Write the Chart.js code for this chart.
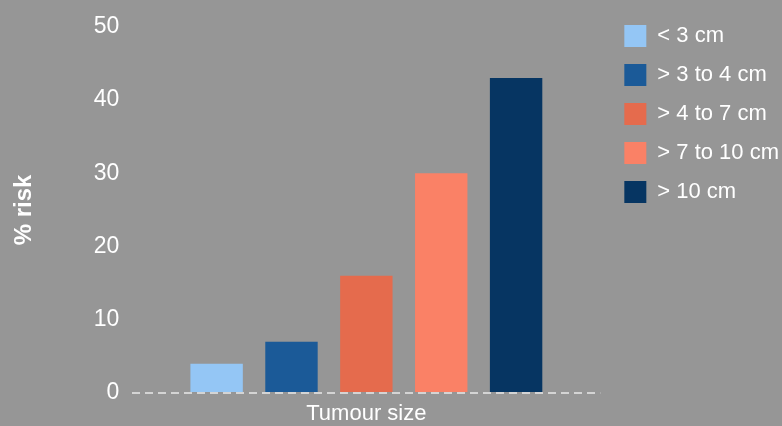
<!DOCTYPE html>
<html lang="en">
<head>
  <meta charset="UTF-8">
  <title>Tumour size risk</title>
  <script src="https://cdn.jsdelivr.net/npm/chart.js"></script>
  <style>
    html, body { margin: 0; padding: 0; background: #969696; }
    .chart-container { position: relative; width: 782px; height: 426px; }
  </style>
</head>
<body>
  <div class="chart-container">
    <canvas id="riskChart"></canvas>
  </div>
  <script>
    // --- data ---
    const categories = ['Tumour size'];
    const sizeLabels = ['< 3 cm', '> 3 to 4 cm', '> 4 to 7 cm', '> 7 to 10 cm', '> 10 cm'];
    const riskValues = [4, 7, 16, 30, 43];
    const barColours = ['#94c6f5', '#1b5a98', '#e56b4d', '#fa8166', '#063562'];
    const yTicks = [0, 10, 20, 30, 40, 50];

    // one dataset per size band so the legend lists them
    const datasets = sizeLabels.map((label, i) => ({
      label: label,
      data: [riskValues[i]],
      backgroundColor: barColours[i],
      categoryPercentage: 0.8,
      barPercentage: 0.7
    }));

    Chart.defaults.font.family = '"Liberation Sans", Arial, sans-serif';
    Chart.defaults.color = '#ffffff';

    // nudge the legend a little to the right / up without resizing the plot area
    const legendNudge = {
      id: 'legendNudge',
      afterLayout(chart) {
        const lg = chart.legend;
        lg.left += 7; lg.right += 7;
        lg.top -= 2; lg.bottom -= 2;
      }
    };

    const ctx = document.getElementById('riskChart').getContext('2d');
    new Chart(ctx, {
      type: 'bar',
      data: { labels: categories, datasets: datasets },
      plugins: [legendNudge],
      options: {
        responsive: true,
        maintainAspectRatio: false,
        animation: false,
        layout: { padding: { top: 10, right: 0, left: 6, bottom: 0 } },
        plugins: {
          tooltip: { enabled: false },
          legend: {
            position: 'right',
            align: 'start',
            labels: {
              color: '#ffffff',
              font: { size: 22 },
              boxWidth: 22,
              boxHeight: 22,
              padding: 17
            }
          }
        },
        scales: {
          x: {
            grid: { display: false, drawTicks: false },
            border: { display: false },
            ticks: { color: '#ffffff', font: { size: 22 }, padding: 8 },
            afterFit: axis => { axis.height = 33; }
          },
          y: {
            min: 0,
            max: 50,
            afterBuildTicks: axis => { axis.ticks = yTicks.map(v => ({ value: v })); },
            grid: {
              drawTicks: false,
              lineWidth: 2,
              color: c => c.tick && c.tick.value === 0 ? '#d4d4d4' : 'rgba(0,0,0,0)'
            },
            border: { display: false, dash: [8, 5] },
            ticks: { color: '#ffffff', font: { size: 23 }, padding: 13 },
            title: {
              display: true,
              text: '% risk',
              color: '#ffffff',
              font: { size: 24, weight: 'bold' },
              padding: { bottom: 42 }
            }
          }
        }
      }
    });
  </script>
</body>
</html>
